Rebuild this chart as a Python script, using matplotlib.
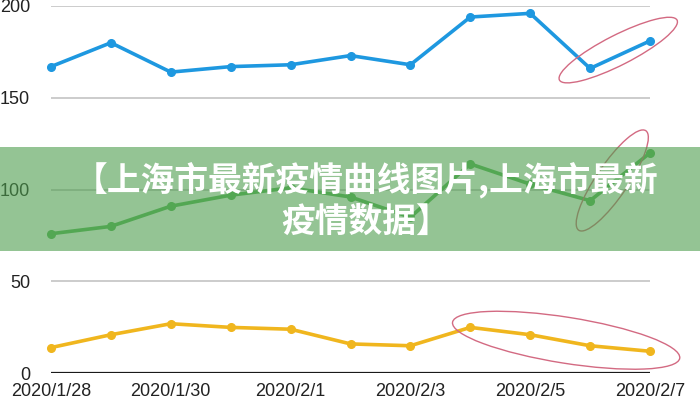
import matplotlib
matplotlib.use("Agg")
import matplotlib.pyplot as plt
from matplotlib.patches import Ellipse, Rectangle
from matplotlib.transforms import ScaledTranslation

# ----------------------------------------------------------
# Data
# ----------------------------------------------------------
dates = ["2020/1/28", "2020/1/29", "2020/1/30", "2020/1/31", "2020/2/1",
         "2020/2/2", "2020/2/3", "2020/2/4", "2020/2/5", "2020/2/6", "2020/2/7"]
blue_vals = [167, 180, 164, 167, 168, 173, 168, 194, 196, 166, 181]
green_vals = [76, 80, 91, 97, 101, 96, 85, 114, 103, 94, 120]
yellow_vals = [14, 21, 27, 25, 24, 16, 15, 25, 21, 15, 12]
y_ticks = [0, 50, 100, 150, 200]

title = "【上海市最新疫情曲线图片,上海市最新\n疫情数据】"

plt.rcParams["font.family"] = ["Liberation Sans", "DejaVu Sans"]

fig = plt.figure(figsize=(7, 4), dpi=100)
ax = fig.add_axes([51 / 700, 26.7 / 400, 599 / 700, 367.3 / 400])

x = list(range(len(dates)))

# gridlines
for t in y_ticks[1:]:
    ax.axhline(t, color="#c8c8c8", linewidth=1.3, zorder=1)
ax.axhline(0, color="#1a1a1a", linewidth=1.6, zorder=2)

series = [
    (blue_vals, "#1e98e0"),
    (green_vals, "#5cb85c"),
    (yellow_vals, "#f0b61e"),
]
for vals, col in series:
    ax.plot(x, vals, color=col, linewidth=2.6, marker="o", markersize=5.5,
            zorder=4, clip_on=False)

ax.set_xlim(0, len(dates) - 1)
ax.set_ylim(0, 200)
ax.set_yticks(y_ticks)
ax.set_yticklabels([str(t) for t in y_ticks])
ax.set_xticks(x[::2])
ax.set_xticklabels(dates[::2])
ax.tick_params(axis="y", length=0, pad=15, labelsize=13, labelcolor="#222222")
ax.tick_params(axis="x", length=0, pad=7, labelsize=13, labelcolor="#222222")
for s in ax.spines.values():
    s.set_visible(False)

# --------------------------------------------------
# Hand-drawn style red ellipses (size in inches, centred on data points)
# --------------------------------------------------
circles = [
    # (x, y, width_in, height_in, angle)
    (9.47, 176, 1.32, 0.30, 27),
    (9.37, 105, 1.20, 0.32, 56),
    (8.60, 18, 2.30, 0.46, -9),
]
for cx, cy, w, h, ang in circles:
    e = Ellipse((0, 0), w, h, angle=ang, fill=False, edgecolor="#d36a82",
                linewidth=1.0, zorder=6, clip_on=False,
                transform=fig.dpi_scale_trans + ScaledTranslation(cx, cy, ax.transData))
    ax.add_patch(e)

# --------------------------------------------------
# Title band
# --------------------------------------------------
band = Rectangle((0, 1 - 251 / 400), 1, 104 / 400, transform=fig.transFigure,
                 facecolor=(0.30, 0.615, 0.30), alpha=0.6, edgecolor="none",
                 zorder=10)
fig.patches.append(band)
fig.text(366 / 700, 1 - 201 / 400, title, ha="center", va="center",
         multialignment="center", color="white", fontsize=24.3,
         fontweight="black", linespacing=1.17,
         family=["Noto Sans CJK SC", "DejaVu Sans"], zorder=11)

fig.savefig("out.png", dpi=100)
